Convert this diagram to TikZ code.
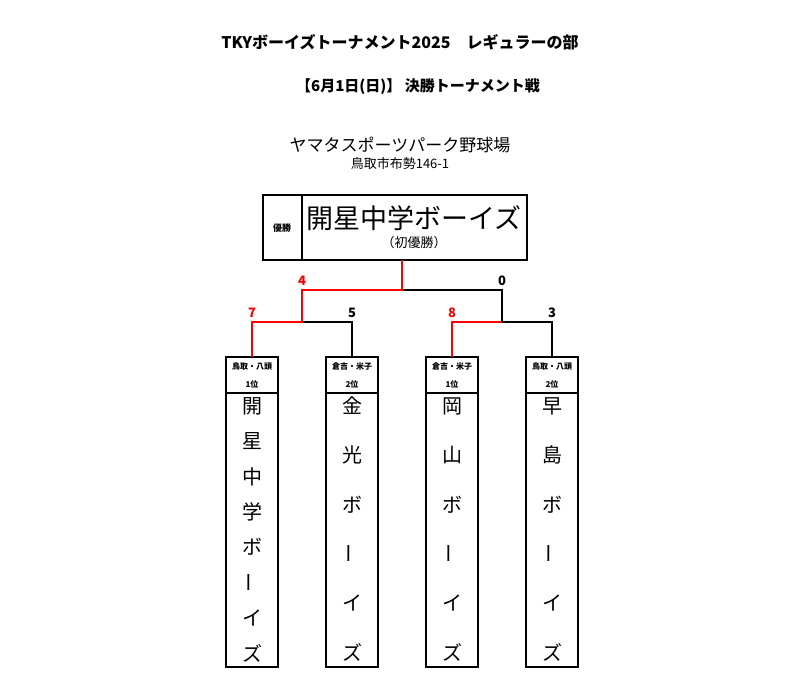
\documentclass[tikz,border=0pt]{standalone}
\usepackage{fontspec}
\setmainfont{Noto Sans CJK JP}
\begin{document}
\begin{tikzpicture}[x=1pt,y=-1pt,
  bx/.style={draw=black,line width=1.3pt},
  ln/.style={draw=black,line width=1.3pt},
  rd/.style={draw=red,line width=2pt},
  sc/.style={font=\fontsize{13}{13}\selectfont\bfseries},
  hd/.style={font=\fontsize{8}{8}\selectfont\bfseries,inner sep=0},
  ch/.style={font=\fontsize{20}{20}\selectfont,inner sep=0}]
\useasboundingbox (0,0) rectangle (800,687);
\node[font=\fontsize{16}{16}\selectfont\bfseries] (t1) at (400,42) {TKYボーイズトーナメント2025\hspace{1em}レギュラーの部};
\node[font=\fontsize{15}{15}\selectfont\bfseries] (t2) at (418,87) {【6月1日(日)】 決勝トーナメント戦};
\node[font=\fontsize{17}{17}\selectfont] (t3) at (400,145) {ヤマタスポーツパーク野球場};
\node[font=\fontsize{13}{13}\selectfont] (t4) at (400,164) {鳥取市布勢146-1};
\draw[bx] (263,195) rectangle (527,260);
\draw[ln] (302,195) -- (302,260);
\node[font=\fontsize{9}{9}\selectfont\bfseries] (yu) at (282,228) {優勝};
\node[font=\fontsize{27}{27}\selectfont] (champ) at (414,218) {開星中学ボーイズ};
\node[font=\fontsize{13}{13}\selectfont] (first) at (414,243) {（初優勝）};
\coordinate (cb) at (402,260);
\coordinate (m) at (402,290);
\coordinate (l1) at (302,290);
\coordinate (r1) at (502,290);
\coordinate (l2) at (302,322);
\coordinate (r2) at (502,322);
\coordinate (a) at (252,322);
\coordinate (b) at (352,322);
\coordinate (c) at (452,322);
\coordinate (d) at (552,322);
\foreach \n/\x in {A/252,B/352,C/452,D/552}{
  \draw[bx] (\x-26,357) rectangle (\x+26,667);
  \draw[ln] (\x-26,393) -- (\x+26,393);
  \coordinate (\n) at (\x,357);
}
\draw[ln] (m) -- (r1) -- (r2);
\draw[ln] (l2) -- (b) -- (B);
\draw[ln] (r2) -- (d) -- (D);
\draw[rd] (cb) -- (m) -- (l1) -- (l2) -- (a) -- (A);
\draw[rd] (r2) -- (c) -- (C);
\node[sc,text=red] (s4) at (302,281) {4};
\node[sc] (s0) at (502,281) {0};
\node[sc,text=red] (s7) at (252,313) {7};
\node[sc] (s5) at (352,313) {5};
\node[sc,text=red] (s8) at (452,313) {8};
\node[sc] (s3) at (552,313) {3};
\foreach \x/\p/\r in {252/鳥取・八頭/1位,352/倉吉・米子/2位,452/倉吉・米子/1位,552/鳥取・八頭/2位}{
  \node[hd] at (\x,366) {\p};
  \node[hd] at (\x,384) {\r};
}
\foreach \c/\r [count=\i] in {開/0,星/0,中/0,学/0,ボ/0,ー/90,イ/0,ズ/0}{
  \node[ch,rotate=\r] at (252,{406+(\i-1)*35.3}) {\c};
}
\foreach \x/\s in {352/{金/0,光/0,ボ/0,ー/90,イ/0,ズ/0},452/{岡/0,山/0,ボ/0,ー/90,イ/0,ズ/0},552/{早/0,島/0,ボ/0,ー/90,イ/0,ズ/0}}{
  \foreach \c/\r [count=\i] in \s {
    \node[ch,rotate=\r] at (\x,{406+(\i-1)*49.2}) {\c};
  }
}
\end{tikzpicture}
\end{document}
